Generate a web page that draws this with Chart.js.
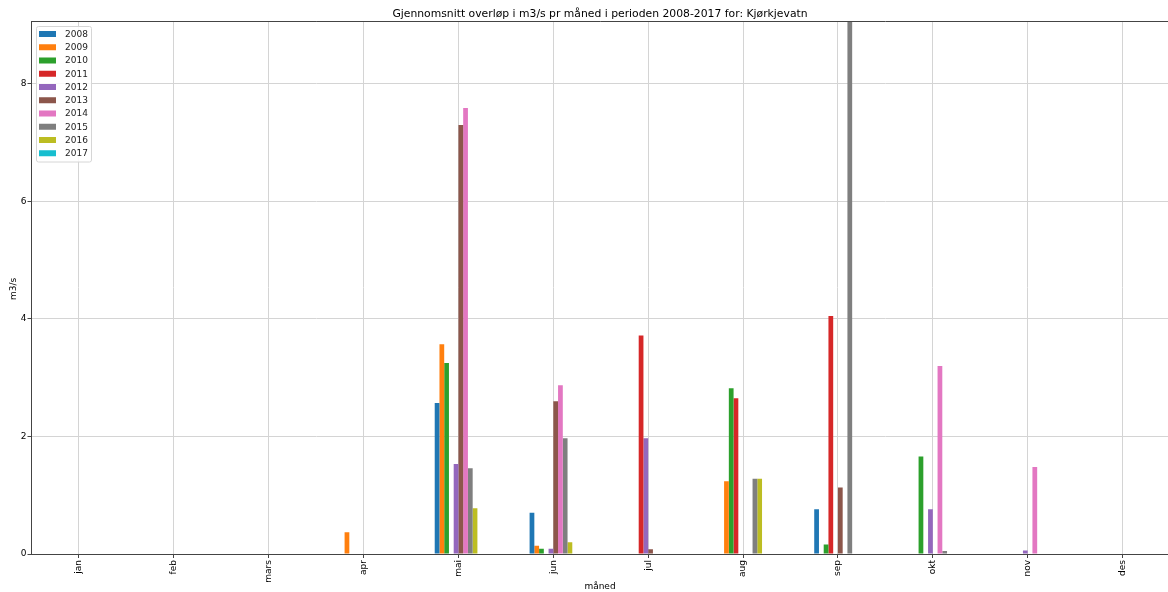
<!DOCTYPE html>
<html>
<head>
<meta charset="utf-8">
<script src="https://cdn.jsdelivr.net/npm/chart.js@4.4.1/dist/chart.umd.min.js"></script>
<style>
    html, body { margin: 0; padding: 0; background: #fff; overflow: hidden; }
    #wrap { width: 1168px; height: 592px; overflow: hidden; }
</style>
</head>
<body>
<div id="wrap"><canvas id="overlop" width="1170" height="592"></canvas></div>
<script>
const months = ["jan", "feb", "mars", "apr", "mai", "jun", "jul", "aug", "sep", "okt", "nov", "des"];
const years = ["2008", "2009", "2010", "2011", "2012", "2013", "2014", "2015", "2016", "2017"];
const yTicks = [0, 2, 4, 6, 8];

// m3/s per month, one list per year (jan..des)
const v2008 = [0, 0, 0, 0, 2.57, 0.70, 0, 0, 0.76, 0, 0, 0];
const v2009 = [0, 0, 0, 0.37, 3.57, 0.14, 0, 1.24, 0, 0, 0, 0];
const v2010 = [0, 0, 0, 0, 3.25, 0.09, 0, 2.82, 0.16, 1.66, 0, 0];
const v2011 = [0, 0, 0, 0, 0, 0, 3.72, 2.65, 4.05, 0, 0, 0];
const v2012 = [0, 0, 0, 0, 1.53, 0.09, 1.97, 0, 0, 0.76, 0.06, 0];
const v2013 = [0, 0, 0, 0, 7.30, 2.60, 0.08, 0, 1.13, 0, 0, 0];
const v2014 = [0, 0, 0, 0, 7.59, 2.87, 0, 0, 0, 3.20, 1.48, 0];
const v2015 = [0, 0, 0, 0, 1.46, 1.97, 0, 1.28, 11.5, 0.05, 0, 0];
const v2016 = [0, 0, 0, 0, 0.78, 0.20, 0.01, 1.28, 0, 0, 0, 0];
const v2017 = [0, 0, 0, 0, 0, 0, 0, 0, 0, 0, 0, 0];

const series = [v2008, v2009, v2010, v2011, v2012, v2013, v2014, v2015, v2016, v2017];
const colors = ["#1f77b4", "#ff7f0e", "#2ca02c", "#d62728", "#9467bd", "#8c564b", "#e377c2", "#7f7f7f", "#bcbd22", "#17becf"];

const FONT = "DejaVu Sans";
const titleText = "Gjennomsnitt overløp i m3/s pr måned i perioden 2008-2017 for: Kjørkjevatn";

const decorations = {
    id: "decorations",
    afterDraw(chart) {
        const { ctx, chartArea: a } = chart;
        ctx.save();

        // top spine (right one falls outside the picture)
        ctx.strokeStyle = "#444";
        ctx.lineWidth = 1;
        ctx.beginPath();
        ctx.moveTo(a.left, a.top + 0.5);
        ctx.lineTo(a.right, a.top + 0.5);
        ctx.stroke();

        // title + axis titles
        ctx.fillStyle = "#000";
        ctx.textAlign = "center";
        ctx.textBaseline = "middle";
        ctx.font = `10.8px "${FONT}"`;
        ctx.fillText(titleText, 600, 14.5);
        ctx.font = `9px "${FONT}"`;
        ctx.fillText("måned", 600, 587);
        ctx.save();
        ctx.translate(14, 289);
        ctx.rotate(-Math.PI / 2);
        ctx.fillText("m3/s", 0, 0);
        ctx.restore();

        // legend box, upper left inside the plot
        const x0 = 36, y0 = 26, w = 55, rowH = 13.25;
        const h = rowH * years.length + 3;
        ctx.fillStyle = "rgba(255,255,255,0.85)";
        ctx.strokeStyle = "#d6d6d6";
        ctx.beginPath();
        ctx.roundRect(x0 + 0.5, y0 + 0.5, w, h, 2);
        ctx.fill();
        ctx.stroke();

        ctx.textAlign = "left";
        ctx.font = `9px "${FONT}"`;
        years.forEach((year, i) => {
            const cy = y0 + 8 + i * rowH;
            ctx.fillStyle = colors[i];
            ctx.fillRect(x0 + 3, cy - 3, 17, 6);
            ctx.fillStyle = "#222";
            ctx.fillText(year, x0 + 29, cy + 0.5);
        });

        ctx.restore();
    },
};

new Chart(document.getElementById("overlop"), {
    type: "bar",
    data: {
        labels: months,
        datasets: years.map((year, i) => ({
            label: year,
            data: series[i],
            backgroundColor: colors[i],
            borderWidth: 0,
            categoryPercentage: 0.5,
            barPercentage: 1,
        })),
    },
    options: {
        responsive: false,
        animation: false,
        devicePixelRatio: 1,
        layout: { padding: { top: 21, right: 0, left: 0, bottom: 0 } },
        plugins: {
            legend: { display: false },
            title: { display: false },
            tooltip: { enabled: false },
        },
        scales: {
            x: {
                offset: true,
                grid: { offset: false, color: "#d4d4d4", tickColor: "#444", tickLength: 4 },
                border: { color: "#444" },
                ticks: {
                    minRotation: 90,
                    maxRotation: 90,
                    padding: 2,
                    color: "#000",
                    font: { family: FONT, size: 9 },
                },
                afterFit: (scale) => { scale.height = 38; },
            },
            y: {
                min: 0,
                max: 9.07,
                afterBuildTicks: (scale) => { scale.ticks = yTicks.map((value) => ({ value })); },
                grid: { color: "#d4d4d4", tickColor: "#444", tickLength: 4 },
                border: { color: "#444" },
                ticks: {
                    padding: 1,
                    color: "#000",
                    font: { family: FONT, size: 9 },
                },
                afterFit: (scale) => { scale.width = 31.5; },
            },
        },
    },
    plugins: [decorations],
});
</script>
</body>
</html>
